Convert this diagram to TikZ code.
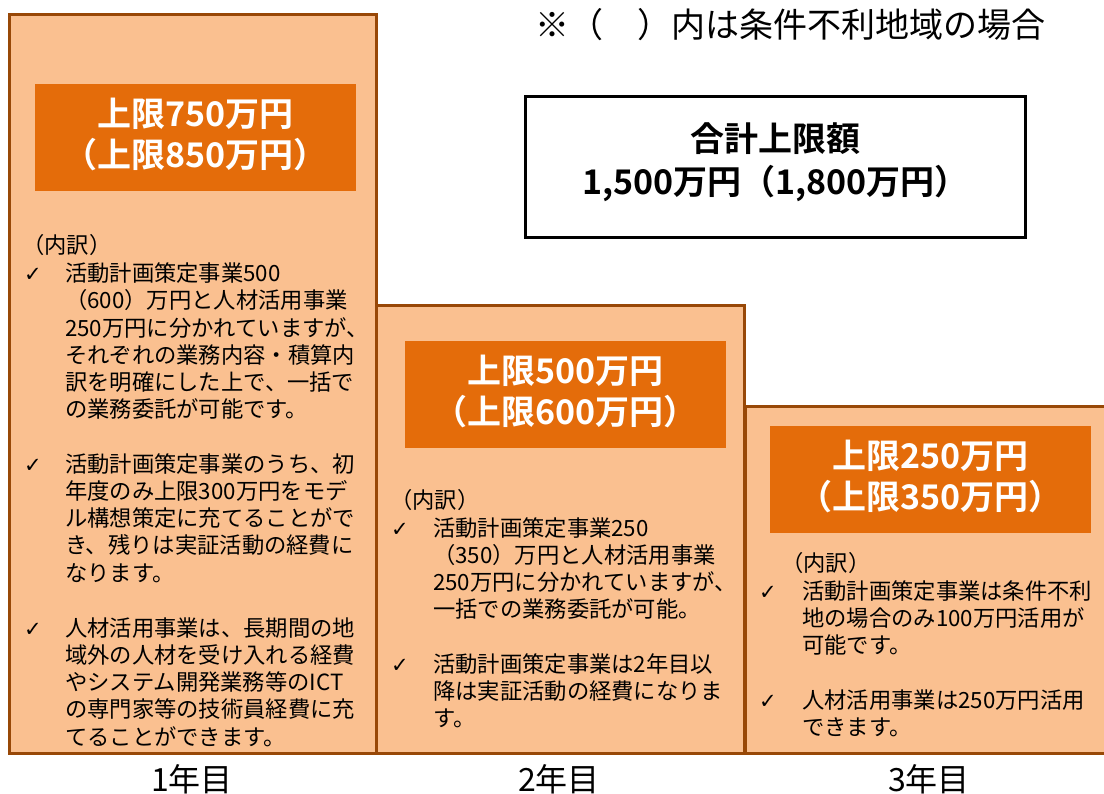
\documentclass[tikz,border=0pt]{standalone}
\usepackage{fontspec}
\setmainfont{Noto Sans CJK JP}[BoldFont={Noto Sans CJK JP Bold}]
\newfontfamily\symfont{DejaVu Sans}
\definecolor{boxfill}{HTML}{FAC090}
\definecolor{boxline}{HTML}{984807}
\definecolor{headfill}{HTML}{E46C0A}
\tikzset{
  yearbox/.style={draw=boxline, fill=boxfill, line width=3pt, inner sep=0pt, outer sep=0pt, anchor=north west},
  headbox/.style={fill=headfill, inner sep=0pt, outer sep=0pt, anchor=north west, minimum width=321pt, minimum height=107pt},
  headtext/.style={text=white, font=\fontsize{34}{41}\selectfont\bfseries, align=center, inner sep=0pt},
  body/.style={anchor=base west, inner sep=0pt, font=\fontsize{22.3}{27.3}\selectfont},
  chk/.style={anchor=base west, inner sep=0pt, font=\symfont\fontsize{21}{24}\selectfont},
  yearlabel/.style={font=\fontsize{32}{38}\selectfont, inner sep=0pt},
}
\newcommand{\bodypar}[1]{\parbox[t]{300pt}{\raggedright #1}}
\begin{document}
\begin{tikzpicture}[x=1pt,y=-1pt]
\useasboundingbox (0,0) rectangle (1104,794);
% year boxes
\node[yearbox, minimum width=367pt, minimum height=739pt] (box1) at (9.5,14.5) {};
\node[yearbox, minimum width=368pt, minimum height=447.5pt] (box2) at (376.5,306) {};
\node[yearbox, minimum width=361pt, minimum height=346.5pt] (box3) at (745,407) {};
% headers
\node[headbox] (h1) at (35,84) {};
\node[headtext] (h1t) at ([yshift=3pt]h1.center) {上限750万円\\（上限850万円）};
\node[headbox] (h2) at (405,341) {};
\node[headtext] (h2t) at ([yshift=3pt]h2.center) {上限500万円\\（上限600万円）};
\node[headbox] (h3) at (770,426) {};
\node[headtext] (h3t) at ([yshift=3pt]h3.center) {上限250万円\\（上限350万円）};
% total
\node[draw=black, line width=3pt, fill=white, inner sep=0pt, outer sep=0pt, anchor=north west,
      minimum width=500pt, minimum height=141pt] (tot) at (525.5,97) {};
\node[headtext, text=black, font=\fontsize{34}{43}\selectfont\bfseries] (tott) at ([yshift=5pt]tot.center)
  {合計上限額\\1,500万円（1,800万円）};
% note
\node[anchor=west, inner sep=0pt, font=\fontsize{34}{38}\selectfont] (note) at (535,25) {※（　）内は条件不利地域の場合};
% box1 body
\node[body] (b1u) at (22,253.5) {（内訳）};
\node[chk] (b1c1) at (24,281.5) {✓};
\node[body] (b1p1) at (65,281.5) {\bodypar{活動計画策定事業500\\（600）万円と人材活用事業\\250万円に分かれていますが、\\それぞれの業務内容・積算内\\訳を明確にした上で、一括で\\の業務委託が可能です。}};
\node[chk] (b1c2) at (24,472) {✓};
\node[body] (b1p2) at (65,472) {\bodypar{活動計画策定事業のうち、初\\年度のみ上限300万円をモデ\\ル構想策定に充てることがで\\き、残りは実証活動の経費に\\なります。}};
\node[chk] (b1c3) at (24,636) {✓};
\node[body] (b1p3) at (65,636) {\bodypar{人材活用事業は、長期間の地\\域外の人材を受け入れる経費\\やシステム開発業務等のICT\\の専門家等の技術員経費に充\\てることができます。}};
% box2 body
\node[body] (b2u) at (390,508.5) {（内訳）};
\node[chk] (b2c1) at (391,536) {✓};
\node[body] (b2p1) at (433,536) {\bodypar{活動計画策定事業250\\（350）万円と人材活用事業\\250万円に分かれていますが、\\一括での業務委託が可能。}};
\node[chk] (b2c2) at (391,672) {✓};
\node[body] (b2p2) at (433,672) {\bodypar{活動計画策定事業は2年目以\\降は実証活動の経費になりま\\す。}};
% box3 body
\node[body] (b3u) at (781,571.5) {（内訳）};
\node[chk] (b3c1) at (759,599) {✓};
\node[body] (b3p1) at (802,599) {\bodypar{活動計画策定事業は条件不利\\地の場合のみ100万円活用が\\可能です。}};
\node[chk] (b3c2) at (759,708) {✓};
\node[body] (b3p2) at (802,708) {\bodypar{人材活用事業は250万円活用\\できます。}};
% year labels
\node[yearlabel] (y1) at (192,779) {1年目};
\node[yearlabel] (y2) at (559,779) {2年目};
\node[yearlabel] (y3) at (929,779) {3年目};
\end{tikzpicture}
\end{document}
